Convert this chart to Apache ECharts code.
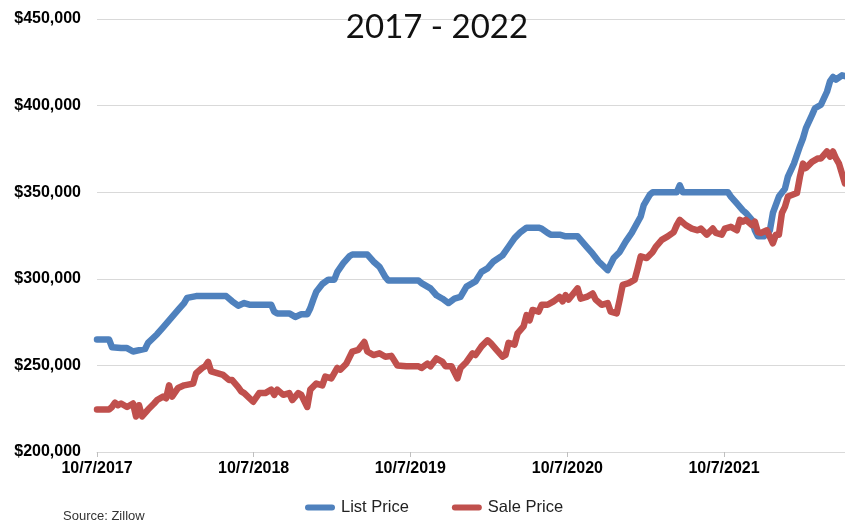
<!DOCTYPE html>
<html>
<head>
<meta charset="utf-8">
<title>List vs Sale Price 2017 - 2022</title>
<script src="https://cdn.jsdelivr.net/npm/echarts@6.0.0/dist/echarts.min.js"></script>
<style>
  html, body { margin: 0; padding: 0; background: #ffffff; }
  #chart { width: 845px; height: 523px; }
</style>
</head>
<body>
<div id="chart"></div>
<script>
// Weekly series, counted in weeks from Saturday 10/7/2017
const startDate = [2017, 9, 7];
const lastWeek = 249;

const listWeeks = [0, 4, 5, 8, 10, 12, 16, 17, 20, 22, 24, 27, 29, 30, 33, 43, 45, 47, 49, 51,
  58, 59, 60, 64, 66, 68, 70, 71, 72, 73, 75, 77, 79, 80, 82, 84, 85, 90, 92, 94,
  96, 97, 107, 108, 111, 113, 115, 117, 119, 121, 123, 126, 128, 130, 132, 135, 137, 139, 141, 143,
  147, 148, 150, 151, 154, 156, 160, 161, 163, 165, 167, 170, 172, 174, 176, 178, 181, 182, 184, 185,
  193, 194, 195, 210, 211, 213, 215, 216, 218, 219, 220, 222, 224, 225, 227, 229, 230, 232, 234, 235,
  236, 238, 239, 241, 243, 244, 245, 246, 248, 249];
const listPrices = [265000, 265000, 260500, 260000, 260000, 258000, 259500, 263000, 268000, 272000, 276000, 282000, 286000, 289000, 290000, 290000, 287000, 284500, 286000, 285000,
  285000, 281000, 280000, 280000, 278000, 279500, 279500, 283000, 288000, 292500, 297000, 299500, 299500, 304000, 309000, 313000, 314000, 314000, 310000, 307000,
  301000, 299000, 299000, 297500, 294500, 290500, 288500, 286000, 288500, 289500, 295500, 298500, 304000, 306000, 310000, 313500, 318500, 323500, 327000, 329500,
  329500, 329000, 326500, 325500, 325500, 324500, 324500, 322500, 318500, 314500, 310000, 305000, 312000, 315500, 321500, 326500, 336000, 342500, 348500, 350000,
  350000, 354000, 350000, 350000, 347500, 343500, 339500, 338000, 334000, 328000, 324500, 324500, 328000, 338000, 347500, 352000, 359000, 366500, 376500, 381000,
  387000, 394500, 398500, 400500, 408000, 414000, 416500, 415000, 417500, 417000];

const saleWeeks = [0, 4, 5, 6, 7, 8, 10, 12, 13, 14, 15, 17, 19, 20, 22, 23, 24, 25, 27, 29,
  32, 33, 35, 36, 37, 38, 40, 42, 44, 45, 47, 48, 49, 52, 54, 56, 58, 59, 60, 62,
  64, 65, 67, 68, 70, 71, 73, 75, 76, 78, 80, 81, 83, 85, 87, 89, 90, 92, 94, 96,
  98, 100, 103, 107, 108, 110, 111, 113, 115, 116, 118, 120, 121, 123, 125, 126, 128, 130, 131, 133,
  135, 136, 137, 139, 140, 142, 143, 144, 145, 147, 148, 150, 152, 154, 155, 156, 157, 160, 161, 163,
  165, 166, 168, 170, 171, 173, 174, 175, 177, 179, 180, 181, 183, 185, 186, 188, 190, 192, 193, 194,
  196, 198, 200, 201, 203, 205, 206, 208, 209, 211, 213, 214, 215, 216, 218, 219, 220, 221, 223, 225,
  226, 227, 228, 229, 230, 233, 234, 235, 236, 238, 240, 241, 243, 244, 245, 246, 247, 249];
const salePrices = [224500, 224500, 226000, 228500, 227000, 228000, 226000, 228000, 220500, 227000, 220500, 224500, 228000, 230000, 232000, 231000, 238500, 232000, 237000, 238500,
  239500, 245500, 248500, 249500, 252000, 246500, 245500, 244500, 241500, 241500, 237500, 235000, 234000, 229000, 234000, 234000, 236000, 233000, 236000, 233000,
  234000, 230000, 234000, 233000, 226000, 236000, 239500, 238500, 243500, 242500, 248500, 247500, 251000, 258000, 259000, 263500, 258000, 256000, 257000, 255000,
  255500, 250000, 249500, 249500, 248500, 251000, 249500, 254000, 252000, 249500, 249500, 242500, 248500, 252000, 257000, 256000, 261000, 264500, 263000, 259000,
  255000, 256000, 263000, 262000, 268500, 272500, 279000, 276000, 282000, 281000, 285000, 285000, 287000, 289500, 287000, 290500, 288000, 294500, 288500, 289500,
  291500, 288000, 285000, 286000, 281000, 280000, 288000, 296500, 297500, 299500, 306000, 313000, 312000, 315500, 318500, 322500, 324500, 327000, 331000, 334000,
  331000, 329000, 328000, 329000, 325500, 329000, 326500, 325500, 329000, 330000, 328000, 334000, 333000, 334000, 331000, 333000, 327000, 326500, 328000, 320500,
  325500, 325500, 338000, 341500, 347500, 349500, 359000, 366500, 364000, 367500, 369500, 369500, 373500, 370500, 373500, 369500, 366500, 355000];

// Axis labels on each anniversary of the first week
const tickDates = ['10/7/2017', '10/7/2018', '10/7/2019', '10/7/2020', '10/7/2021'];
const priceTicks = [200000, 250000, 300000, 350000, 400000, 450000];

const seriesNames = ['List Price', 'Sale Price'];
const titleText = '2017 - 2022';
const sourceText = 'Source: Zillow';

const DAY = 86400000;
const t0 = new Date(startDate[0], startDate[1], startDate[2]).getTime();

// x positions are days since the first week
function dayOf(t) {
  return Math.round((t - t0) / DAY);
}
function weekDay(w) {
  return dayOf(new Date(startDate[0], startDate[1], startDate[2] + 7 * w).getTime());
}
function parseTick(s) {
  const p = s.split('/').map(Number);
  return dayOf(new Date(p[2], p[0] - 1, p[1]).getTime());
}
function dayLabel(d) {
  const dt = new Date(startDate[0], startDate[1], startDate[2] + Math.round(d));
  return (dt.getMonth() + 1) + '/' + dt.getDate() + '/' + dt.getFullYear();
}
function money(v) {
  return '$' + String(Math.round(v)).replace(/\B(?=(\d{3})+(?!\d))/g, ',');
}
function pairs(weeks, vals) {
  return weeks.map((w, i) => [weekDay(w), vals[i]]);
}

const tickDays = tickDates.map(parseTick);
const pill = 'path://M3,0 H27 A3,3 0 0 1 27,6 H3 A3,3 0 0 1 3,0 Z';

const chart = echarts.init(document.getElementById('chart'), null, { renderer: 'canvas' });
chart.setOption({
  backgroundColor: '#ffffff',
  animation: false,
  title: {
    text: titleText,
    left: 432,
    textAlign: 'center',
    top: 6,
    textStyle: { fontFamily: 'Lato, "Open Sans", sans-serif', fontSize: 33, fontWeight: 'normal', color: '#111111' }
  },
  graphic: [{
    type: 'text',
    left: 63,
    top: 510,
    style: { text: sourceText, fontFamily: '"Liberation Sans", Arial, sans-serif', fontSize: 13, fill: '#333333' }
  }],
  legend: {
    data: seriesNames,
    left: 300,
    top: 494,
    itemWidth: 32,
    itemHeight: 6,
    itemGap: 43,
    icon: pill,
    textStyle: { fontFamily: '"Liberation Sans", Arial, sans-serif', fontSize: 16.5, color: '#222222' }
  },
  grid: { left: 97, right: 0, top: 19, bottom: 71 },
  xAxis: {
    type: 'value',
    min: 0,
    max: weekDay(lastWeek),
    splitLine: { show: false },
    axisLine: { show: true, lineStyle: { color: '#d9d9d9', width: 1 } },
    axisTick: { show: true, length: 5, lineStyle: { color: '#bfbfbf' }, customValues: tickDays },
    axisLabel: {
      customValues: tickDays,
      margin: 9,
      color: '#000000',
      fontFamily: '"Liberation Sans", Arial, sans-serif',
      fontWeight: 'bold',
      fontSize: 16,
      formatter: dayLabel
    }
  },
  yAxis: {
    type: 'value',
    min: priceTicks[0],
    max: priceTicks[priceTicks.length - 1],
    interval: priceTicks[1] - priceTicks[0],
    axisLine: { show: false },
    axisTick: { show: false },
    splitLine: { lineStyle: { color: '#d9d9d9', width: 1 } },
    axisLabel: {
      margin: 16,
      color: '#000000',
      fontFamily: '"Liberation Sans", Arial, sans-serif',
      fontWeight: 'bold',
      fontSize: 16,
      formatter: money
    }
  },
  series: [
    {
      name: seriesNames[0],
      type: 'line',
      data: pairs(listWeeks, listPrices),
      showSymbol: false,
      symbol: 'none',
      color: '#4f81bd',
      lineStyle: { width: 6.5, color: '#4f81bd', cap: 'round', join: 'round' },
      z: 3
    },
    {
      name: seriesNames[1],
      type: 'line',
      data: pairs(saleWeeks, salePrices),
      showSymbol: false,
      symbol: 'none',
      color: '#c0504d',
      lineStyle: { width: 6.5, color: '#c0504d', cap: 'round', join: 'round' },
      z: 4
    }
  ]
});
</script>
</body>
</html>
